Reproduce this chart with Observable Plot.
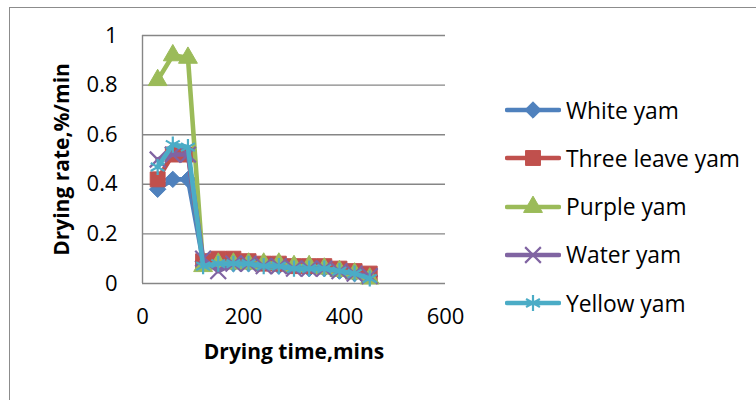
<!DOCTYPE html>
<html>
<head>
<meta charset="utf-8">
<script src="https://cdn.jsdelivr.net/npm/d3@7"></script>
<script src="https://cdn.jsdelivr.net/npm/@observablehq/plot@0.6"></script>
<style>
  html, body { margin: 0; padding: 0; background: #fff; overflow: hidden; }
  body { width: 756px; height: 400px; position: relative; font-family: "Open Sans", sans-serif; }
  #frame { position: absolute; left: 9px; top: 7px; width: 800px; height: 450px; border: 1.5px solid #8c8c8c; box-sizing: border-box; }
  #chart { position: absolute; left: 0; top: 0; }
  #legend { position: absolute; left: 505px; top: 86px; }
  .row { display: flex; align-items: center; height: 48.25px; font-size: 22.8px; color: #000; white-space: nowrap; }
  .row svg { margin-right: 5px; }
</style>
</head>
<body>
<div id="frame"></div>
<div id="chart"></div>
<div id="legend"></div>
<script>
// ---- data ----
const times = [30, 60, 90, 120, 150, 180, 210, 240, 270, 300, 330, 360, 390, 420, 450];
const seriesNames = ["White yam", "Three leave yam", "Purple yam", "Water yam", "Yellow yam"];
const whiteYam     = [0.38, 0.42, 0.42, 0.09, 0.09, 0.08, 0.08, 0.08, 0.07, 0.07, 0.06, 0.06, 0.05, 0.04, 0.03];
const threeLeaveYam= [0.42, 0.52, 0.52, 0.09, 0.10, 0.10, 0.09, 0.08, 0.08, 0.07, 0.07, 0.07, 0.06, 0.05, 0.04];
const purpleYam    = [0.82, 0.92, 0.91, 0.07, 0.08, 0.08, 0.08, 0.08, 0.08, 0.07, 0.07, 0.06, 0.05, 0.04, 0.02];
const waterYam     = [0.50, 0.52, 0.52, 0.10, 0.05, 0.08, 0.08, 0.07, 0.07, 0.06, 0.06, 0.06, 0.05, 0.04, 0.03];
const yellowYam    = [0.47, 0.56, 0.55, 0.07, 0.08, 0.08, 0.08, 0.07, 0.07, 0.06, 0.06, 0.06, 0.05, 0.04, 0.02];
const xTicks = [0, 200, 400, 600];
const yTicks = [0, 0.2, 0.4, 0.6, 0.8, 1];
const xTitle = "Drying time,mins";
const yTitle = "Drying rate,%/min";

// ---- styles ----
const colors = ["#4F81BD", "#C0504D", "#9BBB59", "#8064A2", "#4BACC6"];
const symbols = ["diamond2", "square", "triangle", "times", "asterisk"];
const symbolR = [7.4, 8.4, 7.0, 7.2, 7.6];
const filled = [true, true, true, false, false];

const allValues = [whiteYam, threeLeaveYam, purpleYam, waterYam, yellowYam];
const series = seriesNames.map((name, i) => times.map((t, j) => ({time: t, rate: allValues[i][j], name})));

const marks = [
  Plot.gridY(yTicks, {stroke: "#868686", strokeOpacity: 1, strokeWidth: 1.4}),
  Plot.ruleX([0], {stroke: "#868686", strokeWidth: 1.4}),
  Plot.axisX(xTicks, {tickSize: 0, tickPadding: 25, fontSize: 22, label: null, tickFormat: d => String(d)}),
  Plot.axisY(yTicks, {tickSize: 0, tickPadding: 25, fontSize: 22, label: null, tickFormat: d => String(d)}),
  Plot.text([xTitle], {frameAnchor: "bottom", dy: 75, fontSize: 21, fontWeight: "bold", fill: "#000"}),
  Plot.text([yTitle], {frameAnchor: "left", textAnchor: "middle", dx: -80, rotate: -90, fontSize: 21, fontWeight: "bold", fill: "#000"})
];
series.forEach((data, i) => {
  marks.push(Plot.line(data, {x: "time", y: "rate", stroke: colors[i], strokeWidth: 4.6, strokeLinejoin: "round", strokeLinecap: "round"}));
  marks.push(Plot.dot(data, {
    x: "time", y: "rate", symbol: symbols[i], r: symbolR[i],
    fill: filled[i] ? colors[i] : "none",
    stroke: colors[i], strokeWidth: filled[i] ? 1 : 2.2
  }));
});

const chart = Plot.plot({
  width: 756, height: 400,
  marginLeft: 142, marginRight: 311, marginTop: 35, marginBottom: 117,
  x: {domain: [0, 600]},
  y: {domain: [0, 1]},
  style: {fontFamily: "'Open Sans', sans-serif", color: "#000", background: "transparent", overflow: "visible"},
  marks
});
document.getElementById("chart").appendChild(chart);

// ---- legend ----
const legend = document.getElementById("legend");
seriesNames.forEach((name, i) => {
  const row = document.createElement("div");
  row.className = "row";
  const svg = d3.create("svg").attr("width", 56).attr("height", 24);
  svg.append("line").attr("x1", 2).attr("x2", 54).attr("y1", 12).attr("y2", 12)
    .attr("stroke", colors[i]).attr("stroke-width", 4.6).attr("stroke-linecap", "round");
  const sym = {diamond2: d3.symbolDiamond2, square: d3.symbolSquare, triangle: d3.symbolTriangle, times: d3.symbolTimes, asterisk: d3.symbolAsterisk}[symbols[i]];
  svg.append("path").attr("transform", "translate(28,12)")
    .attr("d", d3.symbol(sym, Math.PI * symbolR[i] * symbolR[i])())
    .attr("fill", filled[i] ? colors[i] : "none")
    .attr("stroke", colors[i]).attr("stroke-width", filled[i] ? 1 : 2.2);
  row.appendChild(svg.node());
  const span = document.createElement("span");
  span.textContent = name;
  row.appendChild(span);
  legend.appendChild(row);
});
</script>
</body>
</html>
